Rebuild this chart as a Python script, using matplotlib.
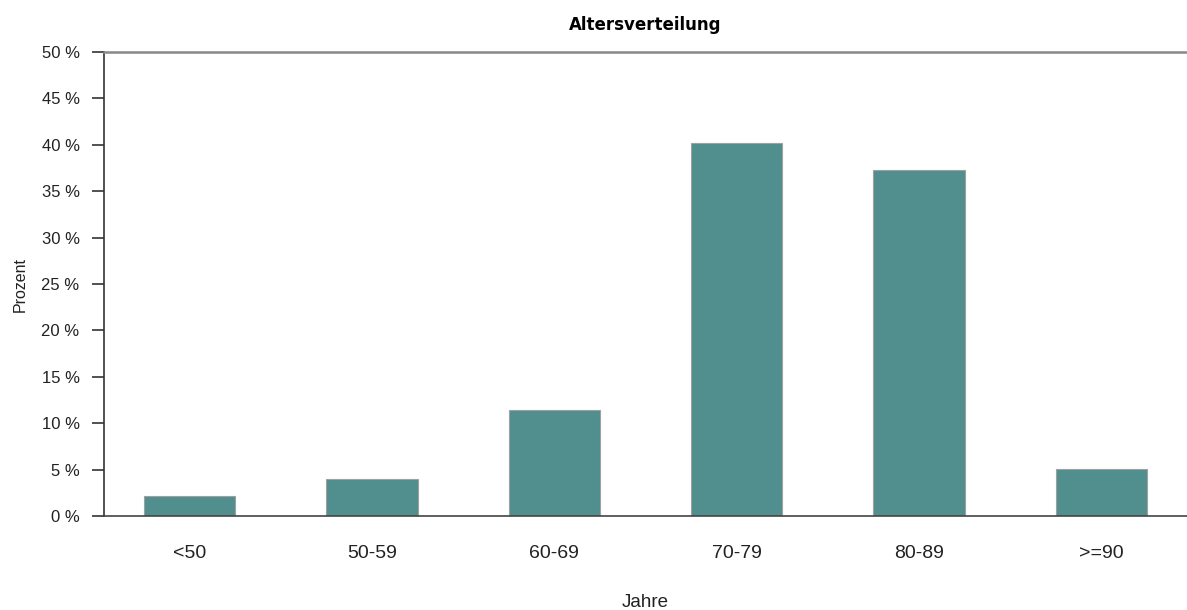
import numpy as np
import matplotlib.pyplot as plt

plt.rcParams['font.family'] = ['Liberation Sans', 'DejaVu Sans']

categories = ["<50", "50-59", "60-69", "70-79", "80-89", ">=90"]
values = [2.15, 4.0, 11.4, 40.2, 37.3, 5.05]
yticks = [0, 5, 10, 15, 20, 25, 30, 35, 40, 45, 50]

fig = plt.figure(figsize=(11.87, 6.10), dpi=100)
ax = fig.add_axes([104/1187, 1 - 516/610, 1 - 104/1187, (516 - 52)/610])

x = np.arange(len(categories))
ax.bar(x, values, width=0.5, color='#508f8e', edgecolor='#a0a0a0', linewidth=0.8, zorder=2)

ax.set_xlim(-0.47, 5.47)
ax.set_ylim(0, 50)
ax.set_yticks(yticks)
ax.set_yticklabels([f"{t} %" for t in yticks], fontsize=12, color='#222222')
ax.set_xticks(x)
ax.set_xticklabels(categories, fontsize=14, color='#222222')
ax.tick_params(axis='x', length=0, pad=21)
ax.tick_params(axis='y', length=8.6, width=1.2, color='#333333', pad=9)

ax.spines['right'].set_visible(False)
ax.spines['left'].set_color('#333333')
ax.spines['left'].set_linewidth(1.2)
ax.spines['bottom'].set_color('#444444')
ax.spines['bottom'].set_linewidth(1.2)
ax.spines['top'].set_color('#888888')
ax.spines['top'].set_linewidth(1.8)

ax.set_title("Altersverteilung", fontsize=12, fontweight='bold', family='DejaVu Sans', pad=16)
ax.set_ylabel("Prozent", fontsize=11.5, color='#222222', labelpad=10)
ax.set_xlabel("Jahre", fontsize=13.5, color='#222222', labelpad=23)

fig.savefig("out.png", dpi=100)
